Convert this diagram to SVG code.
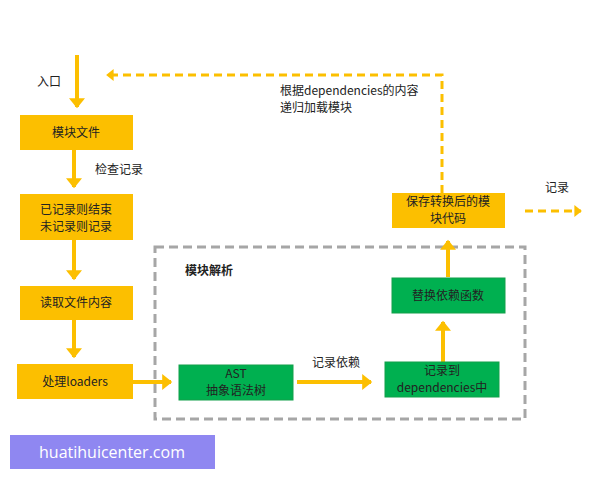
<svg xmlns="http://www.w3.org/2000/svg" width="600" height="480" viewBox="0 0 600 480">
<style>
text{font-family:"Noto Sans CJK SC","Noto Sans",sans-serif;font-size:12px;fill:#222}
.y{fill:#FCBF00}.g{fill:#00B050;stroke:#12A04A}
.c{text-anchor:middle}
.a{stroke:#FCBF00;stroke-width:4;fill:none}
.d{stroke:#FCBF00;stroke-width:3;fill:none;stroke-dasharray:8 5}
</style>
<defs><marker id="m" markerWidth="4" markerHeight="4" refX="2.2" refY="2" orient="auto"><path d="M0,0L2.5,2L0,4z" fill="#FCBF00"/></marker></defs>
<rect width="600" height="480" fill="#fff"/>
<rect x="155" y="247" width="370" height="172" fill="none" stroke="#a6a6a6" stroke-width="3" stroke-dasharray="9 5"/>
<text x="185" y="275" style="font-weight:bold;font-size:12px">模块解析</text>
<g id="connectors">
<path class="a" d="M77,55V107" marker-end="url(#m)"/>
<path class="a" d="M74,150V187" marker-end="url(#m)"/>
<path class="a" d="M74,240V279" marker-end="url(#m)"/>
<path class="a" d="M74,320V357" marker-end="url(#m)"/>
<path class="a" d="M133,382H171" marker-end="url(#m)"/>
<path class="a" d="M297,382H371" marker-end="url(#m)"/>
<path class="a" d="M443,362V322" marker-end="url(#m)"/>
<path class="a" d="M448,277V241" marker-end="url(#m)"/>
<path class="d" d="M442,193V75H107" marker-end="url(#m)"/>
<path class="d" d="M525,211H581" marker-end="url(#m)"/>
</g>
<text x="37" y="86">入口</text>
<text x="95" y="174">检查记录</text>
<text x="280" y="95">根据dependencies的内容</text>
<text x="280" y="112">递归加载模块</text>
<text x="545" y="192">记录</text>
<text x="312" y="367">记录依赖</text>
<g id="n1"><rect class="y" x="20" y="115" width="113" height="35"/><text class="c" x="76" y="137">模块文件</text></g>
<g id="n2"><rect class="y" x="20" y="194" width="113" height="46"/><text class="c" x="76" y="214">已记录则结束</text><text class="c" x="76" y="231">未记录则记录</text></g>
<g id="n3"><rect class="y" x="20" y="286" width="113" height="34"/><text class="c" x="76" y="307">读取文件内容</text></g>
<g id="n4"><rect class="y" x="17" y="364" width="116" height="35"/><text class="c" x="75" y="386">处理loaders</text></g>
<g id="n5"><rect class="g" x="179" y="365" width="114" height="35"/><text class="c" x="236" y="378">AST</text><text class="c" x="236" y="395">抽象语法树</text></g>
<g id="n6"><rect class="g" x="385" y="362" width="114" height="35"/><text class="c" x="442" y="375">记录到</text><text class="c" x="442" y="392">dependencies中</text></g>
<g id="n7"><rect class="g" x="392" y="278" width="113" height="35"/><text class="c" x="448" y="300">替换依赖函数</text></g>
<g id="n8"><rect class="y" x="392" y="193" width="113" height="35"/><text class="c" x="448" y="206">保存转换后的模</text><text class="c" x="448" y="223">块代码</text></g>
<rect x="10" y="435" width="205" height="34" fill="#8F87F1"/>
<text x="112" y="458" class="c" style="fill:#fff;font-size:16px;font-family:'Open Sans',sans-serif">huatihuicenter.com</text>
</svg>
